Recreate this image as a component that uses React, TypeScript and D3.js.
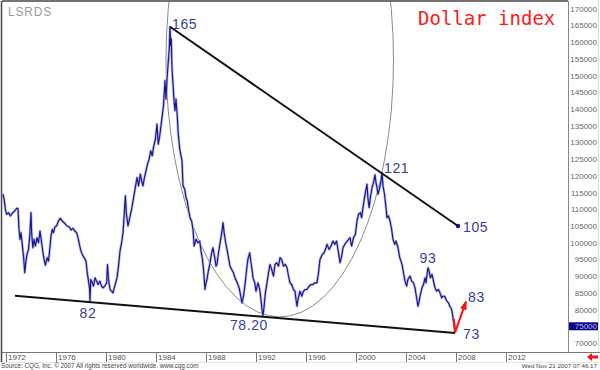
import React, { useEffect, useRef } from "react";
import * as d3 from "d3";

// dollar index (decimal year, index points)
const years = [
  1971.76, 1971.85, 1971.95, 1972.05, 1972.2, 1972.35, 1972.5, 1972.7, 1972.85, 1972.96,
  1973.04, 1973.12, 1973.2, 1973.3, 1973.4, 1973.5, 1973.58, 1973.68, 1973.8, 1973.9,
  1974.0, 1974.05, 1974.15, 1974.25, 1974.35, 1974.48, 1974.6, 1974.72, 1974.85, 1974.96,
  1975.05, 1975.15, 1975.3, 1975.4, 1975.5, 1975.6, 1975.7, 1975.8, 1975.92, 1976.05,
  1976.2, 1976.35, 1976.5, 1976.7, 1976.88, 1977.05, 1977.2, 1977.36, 1977.5, 1977.65,
  1977.76, 1977.9, 1978.0, 1978.1, 1978.25, 1978.4, 1978.5, 1978.6, 1978.68, 1978.72,
  1978.78, 1978.9, 1979.0, 1979.12, 1979.25, 1979.36, 1979.5, 1979.65, 1979.76, 1979.9,
  1980.05, 1980.12, 1980.2, 1980.32, 1980.45, 1980.56, 1980.7, 1980.88, 1981.0, 1981.12,
  1981.25, 1981.36, 1981.45, 1981.55, 1981.62, 1981.76, 1981.9, 1982.05, 1982.16, 1982.3,
  1982.48, 1982.6, 1982.75, 1982.85, 1982.96, 1983.05, 1983.2, 1983.32, 1983.45, 1983.58,
  1983.7, 1983.8, 1983.95, 1984.08, 1984.18, 1984.3, 1984.45, 1984.6, 1984.72, 1984.8,
  1984.9, 1984.98, 1985.06, 1985.12, 1985.17, 1985.22, 1985.28, 1985.36, 1985.45, 1985.52,
  1985.6, 1985.7, 1985.78, 1985.9, 1986.0, 1986.08, 1986.16, 1986.3, 1986.4, 1986.5,
  1986.6, 1986.72, 1986.85, 1986.96, 1987.05, 1987.2, 1987.36, 1987.5, 1987.6, 1987.7,
  1987.8, 1987.92, 1988.0, 1988.08, 1988.16, 1988.3, 1988.45, 1988.56, 1988.7, 1988.8,
  1988.88, 1989.0, 1989.15, 1989.3, 1989.36, 1989.45, 1989.55, 1989.68, 1989.8, 1989.92,
  1990.05, 1990.2, 1990.32, 1990.5, 1990.65, 1990.78, 1990.88, 1991.0, 1991.12, 1991.25,
  1991.35, 1991.5, 1991.6, 1991.7, 1991.76, 1991.9, 1992.0, 1992.16, 1992.3, 1992.4,
  1992.48, 1992.56, 1992.65, 1992.75, 1992.88, 1993.0, 1993.12, 1993.25, 1993.4, 1993.52,
  1993.65, 1993.8, 1993.92, 1994.05, 1994.2, 1994.35, 1994.48, 1994.6, 1994.72, 1994.85,
  1995.0, 1995.12, 1995.2, 1995.28, 1995.38, 1995.52, 1995.65, 1995.8, 1995.95, 1996.08,
  1996.25, 1996.4, 1996.56, 1996.7, 1996.88, 1997.0, 1997.12, 1997.3, 1997.45, 1997.6,
  1997.68, 1997.85, 1998.0, 1998.16, 1998.3, 1998.45, 1998.6, 1998.72, 1998.85, 1998.96,
  1999.1, 1999.3, 1999.52, 1999.65, 1999.8, 1999.95, 2000.08, 2000.2, 2000.35, 2000.45,
  2000.56, 2000.7, 2000.88, 2000.95, 2001.05, 2001.15, 2001.28, 2001.4, 2001.52, 2001.6,
  2001.7, 2001.76, 2001.9, 2002.0, 2002.08, 2002.16, 2002.28, 2002.4, 2002.48, 2002.6,
  2002.72, 2002.85, 2002.96, 2003.1, 2003.2, 2003.36, 2003.5, 2003.6, 2003.68, 2003.8,
  2003.92, 2004.05, 2004.15, 2004.32, 2004.45, 2004.6, 2004.72, 2004.85, 2004.96, 2005.05,
  2005.15, 2005.28, 2005.4, 2005.52, 2005.6, 2005.7, 2005.76, 2005.85, 2005.95, 2006.08,
  2006.2, 2006.32, 2006.45, 2006.6, 2006.72, 2006.85, 2006.95, 2007.1, 2007.2, 2007.28,
  2007.4, 2007.5, 2007.6, 2007.68, 2007.78, 2007.86, 2007.92,
];
const closes = [
  114.5, 113.0, 110.0, 108.5, 109.0, 108.0, 108.8, 109.5, 110.3, 110.2,
  104.0, 101.0, 103.0, 99.5, 96.0, 91.0, 94.0, 96.5, 98.0, 102.0,
  109.0, 103.0, 98.5, 101.0, 99.0, 101.5, 100.0, 103.5, 100.0, 97.0,
  95.0, 93.3, 95.5, 94.5, 98.0, 102.0, 104.0, 103.0, 104.8, 105.0,
  106.5, 107.3, 106.5, 105.8, 105.0, 104.8, 103.8, 104.3, 103.5, 103.0,
  101.5, 99.0, 97.5, 96.5, 95.5, 94.5, 91.0, 88.5, 86.5, 82.5,
  89.0, 88.0, 87.0, 89.5, 88.5, 87.5, 88.5, 87.0, 86.5, 87.0,
  88.0, 93.5, 89.0, 86.0, 85.5, 85.0, 87.0, 89.5, 93.0, 97.5,
  100.0, 103.0, 108.0, 114.0, 109.0, 105.0, 107.5, 110.0, 112.5, 115.5,
  119.5, 117.0, 120.5, 118.5, 117.0, 119.0, 121.5, 123.5, 125.0, 127.5,
  126.0, 128.5, 131.0, 135.5, 129.5, 132.0, 136.5, 141.0, 148.5, 143.0,
  150.0, 154.0, 158.0, 164.6, 159.0, 161.0, 152.0, 147.5, 142.0, 139.5,
  143.0, 138.0, 132.5, 128.0, 126.0, 124.5, 117.0, 116.0, 113.5, 112.5,
  110.0, 107.5, 106.5, 104.0, 99.0, 101.0, 100.0, 100.5, 97.5, 95.5,
  92.0, 86.0, 88.0, 89.0, 91.0, 93.5, 97.0, 98.5, 95.5, 93.0,
  93.5, 97.0, 100.5, 104.0, 106.0, 103.0, 100.5, 98.0, 95.5, 93.0,
  92.0, 91.0, 89.5, 88.0, 86.5, 84.0, 82.0, 84.0, 87.5, 92.0,
  95.0, 97.0, 94.0, 91.5, 89.5, 88.0, 85.5, 88.0, 86.0, 83.0,
  80.0, 78.2, 81.0, 85.0, 88.0, 91.0, 93.5, 92.0, 90.0, 93.5,
  94.0, 93.0, 95.5, 95.0, 93.0, 93.5, 92.5, 90.0, 88.0, 87.5,
  86.0, 85.5, 83.0, 81.0, 83.5, 85.5, 84.0, 85.5, 86.0, 86.0,
  87.0, 87.5, 87.5, 88.0, 88.0, 91.0, 95.0, 96.5, 97.0, 98.5,
  99.5, 98.0, 99.0, 100.5, 99.5, 100.5, 97.0, 94.0, 96.0, 98.5,
  99.5, 100.5, 101.5, 99.0, 101.5, 102.5, 106.5, 108.5, 109.0, 107.5,
  110.5, 114.0, 117.5, 113.5, 110.5, 113.5, 116.5, 118.0, 120.3, 118.0,
  116.0, 114.5, 116.5, 118.5, 120.9, 117.0, 114.5, 110.5, 107.5, 108.0,
  106.5, 104.0, 101.0, 99.5, 100.5, 98.5, 95.5, 94.5, 93.5, 91.0,
  88.5, 87.0, 89.0, 90.0, 88.5, 88.0, 86.5, 83.5, 81.0, 82.5,
  84.5, 86.5, 87.5, 89.5, 88.0, 91.0, 92.5, 91.5, 89.5, 90.5,
  88.5, 86.5, 85.5, 86.0, 85.0, 83.5, 84.0, 84.0, 83.0, 82.5,
  82.0, 81.0, 80.5, 79.5, 77.0, 75.0, 73.3,
];

const yearTicks = [1972, 1976, 1980, 1984, 1988, 1992, 1996, 2000, 2004, 2008, 2012];
const priceTicks = [70, 75, 80, 85, 90, 95, 100, 105, 110, 115, 120, 125, 130, 135, 140, 145, 150, 155, 160, 165, 170];

const upperTrend = [[1985.12, 164.6], [2008.16, 105]];
const lowerTrend = [[1972.72, 84.1], [2007.92, 73.0]];
const reboundArrow = [[2007.84, 77.2], [2007.92, 73.1], [2008.8, 82.4]];
const cycleEllipse = { year: 1993.9, value: 154.7, years: 9.1, points: 76.9 };

const labelTexts = ["165", "121", "105", "93", "83", "73", "82", "78.20"];
const labelYears = [1985.28, 2002.24, 2008.56, 2005.76, 2008.96, 2008.56, 1978.56, 1991.44];
const labelValues = [163.9, 120.9, 103.2, 93.9, 82.3, 71.2, 77.5, 73.9];
const labelAnchors = ["start", "start", "start", "middle", "start", "start", "middle", "middle"];

const lastQuote = 75;

const App = () => {
  const svgRef = useRef(null);

  useEffect(() => {
    const svg = d3.select(svgRef.current);
    svg.selectAll("*").remove();

    const left = 2, right = 568, top = 1, bottom = 352;
    const x = d3.scaleLinear().domain([1972, 2012]).range([6, 506]);
    const y = d3.scaleLinear().domain([70, 170]).range([343, 8.7]);

    svg.append("rect").attr("width", 600).attr("height", 370).attr("fill", "#fff");

    svg.append("defs").append("clipPath").attr("id", "plot")
      .append("rect").attr("x", left).attr("y", top)
      .attr("width", right - left).attr("height", bottom - top);

    const plot = svg.append("g").attr("clip-path", "url(#plot)");

    // ellipse around the 1985-2002 cycle
    plot.append("ellipse")
      .attr("cx", x(cycleEllipse.year))
      .attr("cy", y(cycleEllipse.value))
      .attr("rx", x(cycleEllipse.year + cycleEllipse.years) - x(cycleEllipse.year))
      .attr("ry", y(cycleEllipse.value - cycleEllipse.points) - y(cycleEllipse.value))
      .attr("fill", "none")
      .attr("stroke", "#8a8a8a")
      .attr("stroke-width", 1);

    const series = years.map((yr, i) => [yr, closes[i]]);
    const line = d3.line().x((d) => x(d[0])).y((d) => y(d[1]));

    plot.append("path").datum(series).attr("d", line)
      .attr("fill", "none").attr("stroke", "#b4b4e4")
      .attr("stroke-width", 2.6).attr("stroke-linejoin", "round");
    plot.append("path").datum(series).attr("d", line)
      .attr("fill", "none").attr("stroke", "#14148c")
      .attr("stroke-width", 1.1).attr("stroke-linejoin", "round");

    // trend lines
    [upperTrend, lowerTrend].forEach((t) => {
      plot.append("path").datum(t).attr("d", line)
        .attr("fill", "none").attr("stroke", "#111").attr("stroke-width", 2);
    });
    plot.append("circle")
      .attr("cx", x(upperTrend[1][0])).attr("cy", y(upperTrend[1][1]))
      .attr("r", 2.2).attr("fill", "#12128c");

    // rebound arrow
    plot.append("path").datum(reboundArrow).attr("d", line)
      .attr("fill", "none").attr("stroke", "#ff1010").attr("stroke-width", 2);
    const tip = reboundArrow[2], prev = reboundArrow[1];
    const tx = x(tip[0]), ty = y(tip[1]);
    const ang = Math.atan2(ty - y(prev[1]), tx - x(prev[0]));
    const hl = 8, hw = 3.5;
    const bx = tx - hl * Math.cos(ang), by = ty - hl * Math.sin(ang);
    plot.append("polygon")
      .attr("points", [
        [tx + 1 * Math.cos(ang), ty + 1 * Math.sin(ang)],
        [bx + hw * Math.sin(ang), by - hw * Math.cos(ang)],
        [bx - hw * Math.sin(ang), by + hw * Math.cos(ang)],
      ].map((p) => p.join(",")).join(" "))
      .attr("fill", "#ff1010");

    // value labels
    labelTexts.forEach((t, i) => {
      svg.append("text")
        .attr("x", x(labelYears[i])).attr("y", y(labelValues[i]))
        .attr("text-anchor", labelAnchors[i])
        .attr("font-family", "Liberation Sans, Arial, sans-serif")
        .attr("font-size", 14).attr("letter-spacing", 0.6)
        .attr("fill", "#3b3ba0").text(t);
    });

    // titles
    svg.append("text").attr("x", 8).attr("y", 16)
      .attr("font-family", "Liberation Sans, Arial, sans-serif")
      .attr("font-size", 12).attr("letter-spacing", 0.8)
      .attr("fill", "#9a9a9a").text("LSRDS");
    svg.append("text").attr("x", 418).attr("y", 25)
      .attr("font-family", "DejaVu Sans Mono, monospace")
      .attr("font-size", 19).attr("fill", "#ff1a1a").text("Dollar index");

    // frame
    svg.append("line").attr("x1", left).attr("x2", right).attr("y1", top).attr("y2", top)
      .attr("stroke", "#444").attr("stroke-width", 1.5);
    svg.append("line").attr("x1", 1.5).attr("x2", 1.5).attr("y1", top).attr("y2", 362)
      .attr("stroke", "#444").attr("stroke-width", 1.5);
    svg.append("line").attr("x1", right + 0.5).attr("x2", right + 0.5).attr("y1", top).attr("y2", bottom)
      .attr("stroke", "#888");
    svg.append("line").attr("x1", left).attr("x2", 600).attr("y1", bottom + 0.5).attr("y2", bottom + 0.5)
      .attr("stroke", "#777");
    svg.append("line").attr("x1", 0).attr("x2", 600).attr("y1", 362.5).attr("y2", 362.5)
      .attr("stroke", "#dfe9df");
    svg.append("line").attr("x1", 598.5).attr("x2", 598.5).attr("y1", 0).attr("y2", bottom)
      .attr("stroke", "#cfe6cf");

    // right price axis
    const yAxis = svg.append("g");
    yAxis.selectAll("text").data(priceTicks).enter().append("text")
      .attr("x", 597).attr("y", (d) => y(d) + 3)
      .attr("text-anchor", "end")
      .attr("font-family", "Liberation Sans, Arial, sans-serif")
      .attr("font-size", 8).attr("fill", "#666")
      .text((d) => d3.format("d")(d * 1000));

    svg.append("rect").attr("x", 569).attr("y", y(lastQuote) - 4)
      .attr("width", 29).attr("height", 8).attr("fill", "#0a0a80");
    svg.append("text").attr("x", 597).attr("y", y(lastQuote) + 3)
      .attr("text-anchor", "end")
      .attr("font-family", "Liberation Sans, Arial, sans-serif")
      .attr("font-size", 8).attr("fill", "#b8b8ff")
      .text(d3.format("d")(lastQuote * 1000));

    // bottom year axis
    const xAxis = svg.append("g");
    xAxis.selectAll("line").data(yearTicks).enter().append("line")
      .attr("x1", (d) => Math.round(x(d)) + 0.5).attr("x2", (d) => Math.round(x(d)) + 0.5)
      .attr("y1", bottom).attr("y2", 362).attr("stroke", "#777");
    xAxis.selectAll("text").data(yearTicks).enter().append("text")
      .attr("x", (d) => x(d) + 2).attr("y", 360)
      .attr("font-family", "Liberation Sans, Arial, sans-serif")
      .attr("font-size", 8).attr("fill", "#555")
      .text((d) => d);

    // footer
    svg.append("text").attr("x", 1).attr("y", 368)
      .attr("font-family", "Liberation Sans, Arial, sans-serif")
      .attr("font-size", 6.3).attr("fill", "#444")
      .text("Source: CQG, Inc. \u00a9 2007 All rights reserved worldwide. www.cqg.com");
    svg.append("text").attr("x", 597).attr("y", 368)
      .attr("text-anchor", "end")
      .attr("font-family", "Liberation Sans, Arial, sans-serif")
      .attr("font-size", 6.2).attr("fill", "#444")
      .text("Wed Nov 21 2007 07:46:17");

    svg.append("polygon")
      .attr("points", "587,357 592,353 592,355.5 598,355.5 598,358.5 592,358.5 592,361")
      .attr("fill", "#ff1010");
  }, []);

  return (
    <svg
      ref={svgRef}
      width={600}
      height={370}
      style={{ position: "absolute", left: 0, top: 0, display: "block" }}
    ></svg>
  );
};

export default App;
